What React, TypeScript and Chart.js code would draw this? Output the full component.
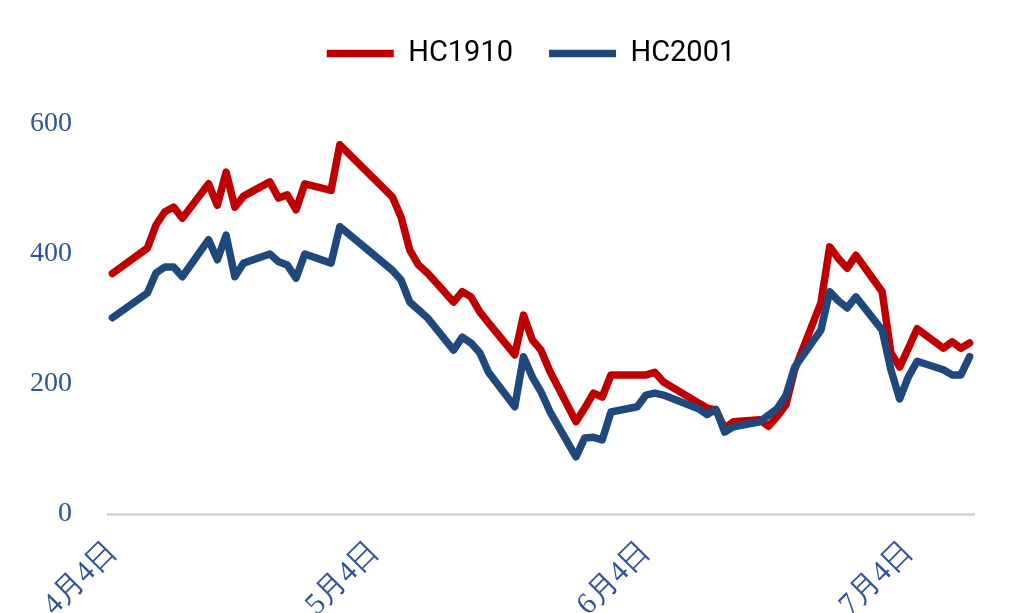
import React, { useEffect, useRef } from 'react';
import { Chart, registerables } from 'chart.js';

Chart.register(...registerables);

// Trading days (2019), month-day
const dates = [
  '04-04', '04-08', '04-09', '04-10', '04-11', '04-12', '04-15', '04-16', '04-17', '04-18', '04-19',
  '04-22', '04-23', '04-24', '04-25', '04-26', '04-29', '04-30',
  '05-06', '05-07', '05-08', '05-09', '05-10', '05-13', '05-14', '05-15', '05-16', '05-17',
  '05-20', '05-21', '05-22', '05-23', '05-24', '05-27', '05-28', '05-29', '05-30', '05-31',
  '06-03', '06-04', '06-05', '06-06', '06-10', '06-11', '06-12', '06-13', '06-14',
  '06-17', '06-18', '06-19', '06-20', '06-21', '06-24', '06-25', '06-26', '06-27', '06-28',
  '07-01', '07-02', '07-03', '07-04', '07-05', '07-08', '07-09', '07-10', '07-11',
];

const hc1910 = [
  370, 409, 445, 465, 472, 455, 508, 475, 526, 472, 489,
  511, 486, 491, 468, 508, 498, 568,
  488, 457, 406, 383, 371, 326, 342, 334, 311, 294,
  245, 306, 268, 252, 220, 142, 163, 186, 180, 214,
  214, 214, 218, 203, 171, 163, 160, 132, 142,
  145, 135, 150, 168, 222, 325, 411, 393, 378, 398,
  342, 248, 226, 255, 285, 255, 265, 255, 263,
];

const hc2001 = [
  302, 340, 371, 380, 380, 365, 422, 391, 429, 365, 386,
  400, 388, 383, 363, 400, 386, 442,
  375, 360, 326, 314, 302, 252, 272, 263, 248, 218,
  165, 242, 211, 188, 158, 88, 117, 118, 114, 157,
  165, 183, 186, 183, 162, 153, 161, 126, 134,
  142, 152, 162, 182, 226, 283, 342, 328, 317, 334,
  283, 222, 177, 211, 235, 222, 214, 214, 242,
];

const tickDates = ['04-04', '05-04', '06-04', '07-04'];
const tickLabels = ['4月4日', '5月4日', '6月4日', '7月4日'];
const yTicks = [0, 200, 400, 600];
const seriesNames = ['HC1910', 'HC2001'];

const dayIndex = (s: string) => {
  const [m, d] = s.split('-').map(Number);
  return (Date.UTC(2019, m - 1, d) - Date.UTC(2019, 3, 4)) / 86400000;
};

const W = 1013;
const H = 680;
const LEGEND_TOP = 3;
const LEGEND_H = 121;
const LEGEND_SHIFT = 44;

const legendSpacer = {
  id: 'legendSpacer',
  beforeLayout(chart: any) {
    const lg = chart.legend;
    if (lg && !lg.__patched) {
      const orig = lg.fit;
      lg.fit = function () {
        orig.call(this);
        this.height = LEGEND_H;
      };
      lg.__patched = true;
    }
  },
  afterLayout(chart: any) {
    const lg = chart.legend;
    if (lg) {
      lg.left += LEGEND_SHIFT;
      lg.right += LEGEND_SHIFT;
    }
  },
};

export default function App() {
  const ref = useRef<HTMLCanvasElement | null>(null);

  useEffect(() => {
    if (!ref.current) return;
    const xs = dates.map(dayIndex);
    const tickVals = tickDates.map(dayIndex);
    const labelColor = '#2F5597';
    const chart = new Chart(ref.current, {
      type: 'line',
      data: {
        datasets: [
          {
            label: seriesNames[0],
            data: xs.map((x, i) => ({ x, y: hc1910[i] })),
            borderColor: '#C00000',
            backgroundColor: '#C00000',
            borderWidth: 7.5,
            pointRadius: 0,
            tension: 0,
            borderJoinStyle: 'round',
            borderCapStyle: 'round',
            order: 1,
          },
          {
            label: seriesNames[1],
            data: xs.map((x, i) => ({ x, y: hc2001[i] })),
            borderColor: '#1F497D',
            backgroundColor: '#1F497D',
            borderWidth: 7.5,
            pointRadius: 0,
            tension: 0,
            borderJoinStyle: 'round',
            borderCapStyle: 'round',
            order: 0,
          },
        ],
      },
      options: {
        responsive: false,
        animation: false,
        layout: { padding: { top: LEGEND_TOP, left: 0, right: 39, bottom: 0 } },
        plugins: {
          tooltip: { enabled: false },
          legend: {
            display: true,
            position: 'top',
            labels: {
              usePointStyle: true,
              pointStyle: 'line',
              pointStyleWidth: 67,
              padding: 36,
              color: '#000000',
              font: { family: 'Roboto', size: 29 },
              sort: (a: any, b: any) => a.datasetIndex - b.datasetIndex,
            },
          },
        },
        scales: {
          x: {
            type: 'linear',
            min: xs[0] - 0.5,
            max: xs[xs.length - 1] + 0.5,
            grid: { display: false, drawTicks: false },
            border: { display: true, color: '#D9D9D9', width: 3 },
            afterBuildTicks: (s: any) => {
              s.ticks = tickVals.map((v) => ({ value: v }));
            },
            afterFit: (s: any) => {
              s.height = H - 514;
            },
            ticks: {
              autoSkip: false,
              minRotation: 45,
              maxRotation: 45,
              padding: 20,
              color: labelColor,
              font: { family: 'Liberation Serif', size: 30 },
              callback: (v: any) => {
                const i = tickVals.indexOf(Number(v));
                return i >= 0 ? tickLabels[i] : '';
              },
            },
          },
          y: {
            min: 0,
            max: 600,
            grid: { display: false, drawTicks: false },
            border: { display: false },
            afterBuildTicks: (s: any) => {
              s.ticks = yTicks.map((v) => ({ value: v }));
            },
            afterFit: (s: any) => {
              s.width = 108;
            },
            ticks: {
              padding: 36,
              color: labelColor,
              font: { family: 'Liberation Serif', size: 28 },
            },
          },
        },
      },
      plugins: [legendSpacer],
    } as any);
    return () => chart.destroy();
  }, []);

  return (
    <div style={{ position: 'absolute', left: 0, top: 0, width: W, height: 613, overflow: 'hidden', background: '#fff' }}>
      <canvas ref={ref} width={W} height={H} style={{ width: W, height: H, display: 'block' }} />
    </div>
  );
}
